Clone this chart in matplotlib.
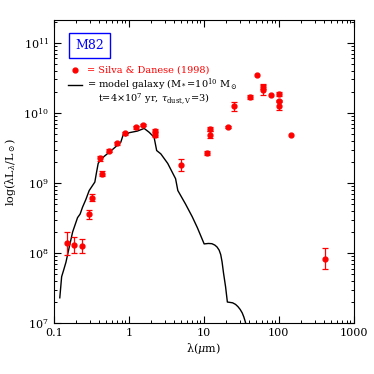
import matplotlib
matplotlib.use("Agg")
import matplotlib.pyplot as plt
import numpy as np

plt.rcParams["font.family"] = "DejaVu Serif"
plt.rcParams["mathtext.fontset"] = "dejavuserif"

# Silva & Danese (1998) photometry of M82
sd_wave = [0.149, 0.187, 0.238, 0.29, 0.324, 0.414, 0.433, 0.545, 0.686, 0.885,
           1.24, 1.54, 2.2, 2.2, 4.98, 11.1, 12.1, 12.1, 21.1, 25.1,
           41.4, 50.9, 61.2, 61.2, 78.9, 102, 102, 102, 145, 410]
sd_lum = [1.37e8, 1.3e8, 1.26e8, 3.6e8, 6.2e8, 2.24e9, 1.36e9, 2.9e9, 3.7e9, 5.1e9,
          6.2e9, 6.7e9, 5.5e9, 4.9e9, 1.8e9, 2.7e9, 5.9e9, 4.9e9, 6.3e9, 1.24e10,
          1.7e10, 3.5e10, 2.35e10, 2.15e10, 1.78e10, 1.86e10, 1.48e10, 1.27e10, 4.9e9, 8.3e7]
sd_err_dex = [0.17, 0.12, 0.10, 0.065, 0.05, 0.03, 0.03, 0.02, 0.02, 0.02,
              0.02, 0.02, 0.03, 0.03, 0.08, 0.03, 0.03, 0.05, 0.02, 0.06,
              0.03, 0.0, 0.03, 0.08, 0.0, 0.03, 0.02, 0.07, 0.0, 0.15]

# model galaxy SED
mod_wave = [0.12, 0.127, 0.135, 0.145, 0.16, 0.178, 0.207, 0.224, 0.241, 0.267,
            0.296, 0.352, 0.37, 0.39, 0.414, 0.47, 0.606, 0.78, 0.847, 0.91,
            1.0, 1.3, 1.6, 1.86, 2.17, 2.35, 2.67, 3.3, 4.2, 4.5,
            5.7, 7.0, 8.2, 10.1, 11.5, 12.8, 14.0, 15.0, 16.0, 16.8,
            17.5, 18.3, 19.5, 20.6, 22.0, 24.2, 26.5, 28.5, 30.5, 32.5,
            34.2, 35.7, 37.5]
mod_lum = [2.3e7, 4.6e7, 5.7e7, 7.4e7, 1.2e8, 2.0e8, 3.2e8, 3.6e8, 4.5e8, 5.8e8,
           7.8e8, 1.03e9, 1.4e9, 1.9e9, 2.1e9, 2.4e9, 3.0e9, 3.8e9, 5.0e9, 4.7e9,
           5.2e9, 5.5e9, 6.0e9, 5.3e9, 4.5e9, 2.9e9, 2.6e9, 1.9e9, 1.15e9, 7.8e8,
           5.0e8, 3.3e8, 2.3e8, 1.35e8, 1.37e8, 1.36e8, 1.3e8, 1.22e8, 1.1e8, 9.5e7,
           7.5e7, 5.2e7, 3.3e7, 2.0e7, 1.98e7, 1.95e7, 1.85e7, 1.72e7, 1.57e7, 1.4e7,
           1.22e7, 1.05e7, 8.5e6]

fig = plt.figure(figsize=(3.74, 3.74), dpi=100)
ax = fig.add_axes([0.144, 0.136, 0.802, 0.810])

ax.plot(mod_wave, mod_lum, color="black", lw=1.0)

lum = np.array(sd_lum)
err = np.array(sd_err_dex)
lo = lum - lum * 10 ** (-err)
hi = lum * 10 ** err - lum
has = err > 0
ax.errorbar(np.array(sd_wave)[has], lum[has], yerr=[lo[has], hi[has]], fmt="none",
            ecolor="red", elinewidth=0.9, capsize=2, capthick=0.9)
ax.plot(sd_wave, sd_lum, "o", color="red", ms=3.5, mec="red")

ax.set_xscale("log")
ax.set_yscale("log")
ax.set_xlim(0.1, 1000)
ax.set_ylim(1e7, 2.1e11)
ax.set_xticks([0.1, 1, 10, 100, 1000])
ax.set_xticklabels(["0.1", "1", "10", "100", "1000"])
ax.tick_params(which="both", direction="in", top=True, right=True, labelsize=8)
ax.tick_params(which="major", length=5, width=0.8)
ax.tick_params(which="minor", length=2.5, width=0.7)
ax.set_xlabel(r"λ($\mu$m)", fontsize=8, labelpad=2)
ax.set_ylabel(r"log(λL$_λ$/L$_\odot$)", fontsize=8, labelpad=4)

# legend drawn by hand
ax.text(0.12, 0.917, "M82", color="blue", fontsize=9, ha="center", va="center",
        transform=ax.transAxes,
        bbox=dict(boxstyle="square,pad=0.5", fc="white", ec="blue", lw=1))
ax.plot([0.07], [0.835], "o", color="red", ms=3.5, transform=ax.transAxes)
ax.text(0.11, 0.835, "= Silva & Danese (1998)", color="red", fontsize=7,
        va="center", transform=ax.transAxes)
ax.plot([0.047, 0.093], [0.787, 0.787], color="black", lw=1, transform=ax.transAxes)
ax.text(0.11, 0.787, r"= model galaxy (M$_*$=10$^{10}$ M$_\odot$", fontsize=7,
        va="center", transform=ax.transAxes)
ax.text(0.147, 0.740, r"t=4×10$^7$ yr, $\tau_{\rm dust,V}$=3)", fontsize=7,
        va="center", transform=ax.transAxes)

fig.savefig("out.png", dpi=100)
